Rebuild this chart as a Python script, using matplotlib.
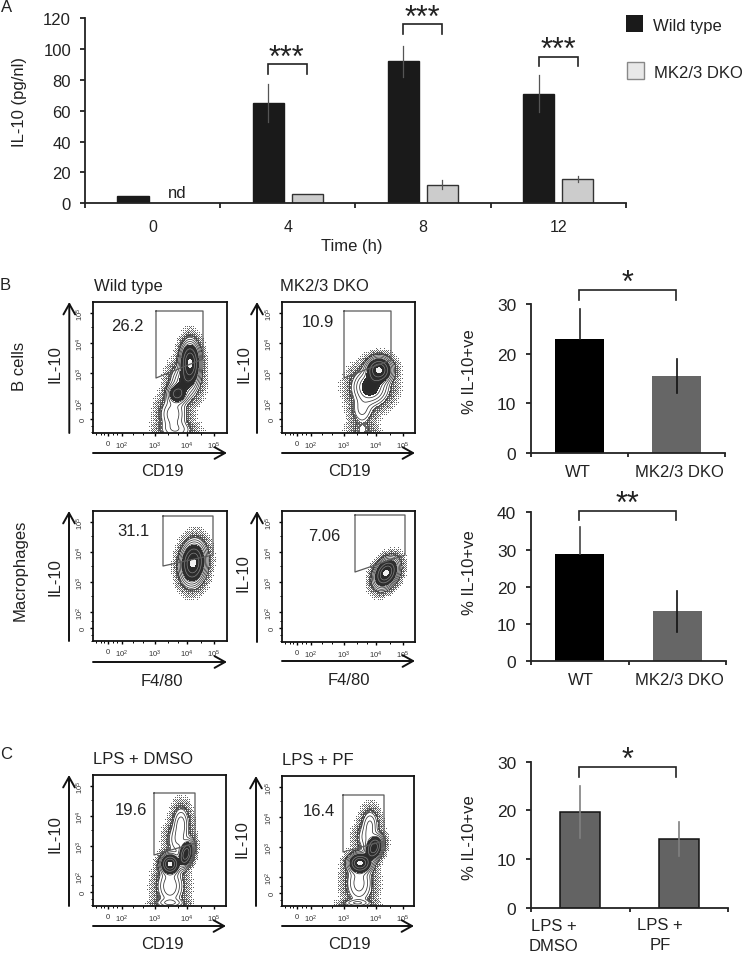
import numpy as np
import matplotlib
matplotlib.use('Agg')
import matplotlib.pyplot as plt

plt.rcParams['font.family'] = ['Liberation Sans', 'DejaVu Sans']
plt.rcParams['mathtext.fontset'] = 'custom'
plt.rcParams['mathtext.rm'] = 'Liberation Sans'
plt.rcParams['mathtext.default'] = 'regular'

W, H = 745, 954
TXT = '#222222'

# ---------- Panel A data ----------
times = ['0', '4', '8', '12']
wt_vals = [4.5, 65, 92, 71]
wt_errs = [0, 12.5, 10, 12]
ko_vals = [0, 6, 12, 16]
ko_errs = [0, 0, 3, 2]
a_brackets = [(1, 90.2, 83.7), (2, 116, 109.6), (3, 95, 88.8)]

# ---------- Summary bar panels ----------
b1_labels = ['WT', 'MK2/3 DKO']
b1_vals = [23, 15.5]
b1_errs = [6, 3.5]
b2_labels = ['WT', 'MK2/3 DKO']
b2_vals = [28.7, 13.5]
b2_errs = [7.3, 5.5]
c_labels = ['LPS +\nDMSO', 'LPS +\nPF']
c_vals = [19.7, 14.2]
c_errs = [5.3, 3.5]

# ---------- Flow plots: density lobes ----------
# (centre x, centre y, spread x, spread y, tilt deg, height), in px inside each frame
bwt_lobes = [(97, 61, 4.6, 10, 0, 1.0), (84, 92, 5, 5, 0, .42), (91, 80, 7, 9, 0, .22),
             (80, 112, 7, 9, 0, .14), (83, 128, 9, 5, 0, .08)]
bko_lobes = [(97, 68, 6, 6, 0, 1.0), (88, 85, 9, 9, -25, .30),
             (80, 108, 6, 8, 0, .07), (80, 128, 7, 5, 0, .03)]
mwt_lobes = [(100, 52, 5.8, 9.8, -6, 1.0)]
mko_lobes = [(104, 62, 5, 7.4, -30, 1.0)]
c1_lobes = [(77, 89, 4.5, 4.8, 0, 1.0), (93, 79, 3.2, 6.5, -15, .85), (85, 65, 6, 9, 0, .10),
            (88, 48, 4.5, 9, 0, .12), (77, 111, 7, 10, 0, .15), (77, 128, 8, 2.5, 0, .09)]
c2_lobes = [(78, 87, 5.5, 4.6, 0, 1.0), (92, 72, 3.8, 6, -20, .85), (85, 62, 6, 8, 0, .08),
            (88, 48, 4.5, 8, 0, .10), (77, 107, 7, 11, 0, .13), (75, 127, 8, 2, 0, .09)]

# gate outlines, px inside each frame
bwt_gate = [(63, 9), (110, 9), (110, 57), (63, 76)]
bko_gate = [(62, 9), (109, 9), (109, 58), (62, 76)]
mwt_gate = [(70, 5), (120, 5), (120, 44), (70, 55)]
mko_gate = [(73, 4), (123, 4), (123, 44), (73, 61)]
c1_gate = [(61, 18), (102, 18), (102, 68), (61, 80)]
c2_gate = [(61, 19), (102, 19), (102, 65), (61, 76)]

flow_tick_labels = ['0', '10$^{2}$', '10$^{3}$', '10$^{4}$', '10$^{5}$']
flow_xticks = [15, 29, 62, 94, 121]
flow_yticks = [117, 101, 71, 41, 11]
flow_xminor = [3, 8, 11, 20, 24, 40, 50, 75, 85, 108]
flow_yminor = [110, 124, 130, 85, 55, 25]

fig = plt.figure(figsize=(W / 100, H / 100), dpi=100)


def px_axes(x0, y0, x1, y1, **kw):
    return fig.add_axes([x0 / W, 1 - y1 / H, (x1 - x0) / W, (y1 - y0) / H], **kw)


over = px_axes(0, 0, W, H)
over.set_xlim(0, W)
over.set_ylim(H, 0)
over.axis('off')
over.set_zorder(10)


def label(x, y, s, size=12, rot=0, ha='center', **kw):
    over.text(x, y, s, fontsize=size, rotation=rot, ha=ha, va='center', color=TXT, **kw)


def arrow(x0, y0, x1, y1):
    over.annotate('', xy=(x1, y1), xytext=(x0, y0),
                  arrowprops=dict(arrowstyle='->,head_width=0.42,head_length=0.75', lw=1.4,
                                  color='#111111', shrinkA=0, shrinkB=0))


def clean(ax, lw=1.3, col='#222222'):
    for s in ['top', 'right']:
        ax.spines[s].set_visible(False)
    for s in ['left', 'bottom']:
        ax.spines[s].set_linewidth(lw)
        ax.spines[s].set_color(col)
    ax.tick_params(width=lw, color=col)
    ax.patch.set_alpha(0)


def bracket(ax, x0, x1, top, foot0, foot1):
    ax.plot([x0, x0, x1, x1], [foot0, top, top, foot1], color='#222222', lw=1.2,
            clip_on=False, solid_joinstyle='miter')


# ---------- Panel A ----------
axA = px_axes(85, 19, 625.7, 204.3)
xa = np.arange(len(times)) + 0.5
off = 0.144
bw = 0.232
axA.bar(xa - off, wt_vals, bw, color='#1a1a1a', edgecolor='#1a1a1a', lw=1)
axA.bar(xa[1:] + off, ko_vals[1:], bw, color='#cccccc', edgecolor='#333333', lw=1)
for x, v, e in zip(xa - off, wt_vals, wt_errs):
    if e:
        axA.plot([x, x], [v - e, v + e], color='#555555', lw=0.9, zorder=5)
for x, v, e in zip(xa + off, ko_vals, ko_errs):
    if e:
        axA.plot([x, x], [v - e, v + e], color='#555555', lw=0.9, zorder=5)
axA.set_xlim(0, 4)
axA.set_ylim(0, 120)
axA.set_yticks(range(0, 121, 20))
axA.set_xticks(range(5))
axA.set_xticklabels([])
axA.set_xticks(xa, minor=True)
axA.set_xticklabels(times, minor=True, fontsize=11.5, color=TXT)
axA.tick_params(axis='x', which='minor', length=0, pad=11.4)
axA.tick_params(axis='x', which='major', length=3.6)
axA.tick_params(axis='y', length=3.6, labelsize=12, labelcolor=TXT, pad=6.4)
clean(axA)
for i, top, foot in a_brackets:
    bracket(axA, xa[i] - off, xa[i] + off, top, foot, foot)
for x, y in [(286, 52), (422, 12), (558, 44)]:
    label(x, y + 7, '***', size=22)
label(177, 193, 'nd', size=12)
label(352, 247, 'Time (h)', size=12)
label(20, 102, 'IL-10 (pg/nl)', size=12, rot=90)
label(1, 7, 'A', size=12, ha='left')
label(0, 286, 'B', size=12, ha='left')
label(0, 755, 'C', size=12, ha='left')

# legend
over.fill([626, 642.7, 642.7, 626], [16, 16, 33, 33], color='#1a1a1a', lw=0)
over.fill([627, 644, 644, 627], [63, 63, 80, 80], facecolor='#e8e8e8', edgecolor='#888888', lw=1)
label(653, 26, 'Wild type', ha='left')
label(654, 73, 'MK2/3 DKO', ha='left')


# ---------- Flow plots ----------
BAYER = np.array([[0, 32, 8, 40, 2, 34, 10, 42], [48, 16, 56, 24, 50, 18, 58, 26],
                  [12, 44, 4, 36, 14, 46, 6, 38], [60, 28, 52, 20, 62, 30, 54, 22],
                  [3, 35, 11, 43, 1, 33, 9, 41], [51, 19, 59, 27, 49, 17, 57, 25],
                  [15, 47, 7, 39, 13, 45, 5, 37], [63, 31, 55, 23, 61, 29, 53, 21]]) / 64.0


def flow(frame, lobes, gate, pct, pct_xy, title, title_x, title_y, xname, xname_y, arrow_x, arrow_xy_y,
         il_xy):
    x0, y0, x1, y1 = frame
    w, h = x1 - x0, y1 - y0
    ax = px_axes(x0, y0, x1, y1)
    gx, gy = np.meshgrid(np.arange(0, w, 0.5), np.arange(0, h, 0.5))
    z = np.zeros_like(gx, dtype=float)
    for cx, cy, sx, sy, t, a in lobes:
        c, s = np.cos(np.radians(t)), np.sin(np.radians(t))
        u = (gx - cx) * c - (gy - cy) * s
        v = (gx - cx) * s + (gy - cy) * c
        z += a * np.exp(-0.5 * ((u / sx) ** 2 + (v / sy) ** 2))
    z /= z.max()
    # ordered stipple fading out around the outermost contour
    sx_, sy_ = np.meshgrid(np.arange(0, w, 1.0), np.arange(0, h, 1.0))
    ix = (sx_ * 2).astype(int)
    iy = (sy_ * 2).astype(int)
    zs = z[np.clip(iy, 0, z.shape[0] - 1), np.clip(ix, 0, z.shape[1] - 1)]
    th = 0.0004 * 120 ** BAYER[sy_.astype(int) % 8, sx_.astype(int) % 8]
    m = (zs > th) & (zs < 0.03)
    ax.scatter(sx_[m], sy_[m], s=0.55, color='#444444', lw=0)
    ax.contourf(gx, gy, z, levels=[0.2, 0.93], colors=['#2a2a2a'])
    ax.contourf(gx, gy, z, levels=[0.93, 1.01], colors=['#f2f2f2'])
    radii = np.linspace(1.3, 2.8, 8)
    levels = np.sort(np.exp(-radii ** 2 / 2))
    ax.contour(gx, gy, z, levels=levels, colors='#333333', linewidths=0.55)
    ax.contour(gx, gy, z, levels=[0.36, 0.6], colors='#8c8c8c', linewidths=0.45)
    gp = np.array(gate + [gate[0]])
    ax.plot(gp[:, 0], gp[:, 1], color='#5a5a5a', lw=0.9)
    ax.set_xlim(0, w)
    ax.set_ylim(h, 0)
    ax.set_xticks(flow_xticks)
    ax.set_xticklabels(flow_tick_labels, fontsize=5.5, color='#333333')
    ax.set_yticks(flow_yticks)
    ax.set_yticklabels(flow_tick_labels, fontsize=5.5, color='#333333', rotation=90, va='center')
    ax.set_xticks(flow_xminor, minor=True)
    ax.set_yticks(flow_yminor, minor=True)
    ax.tick_params(which='major', length=2.2, width=1, pad=2.5)
    ax.tick_params(which='minor', length=1.2, width=0.7)
    for s in ax.spines.values():
        s.set_linewidth(1.3)
        s.set_color('#111111')
    label(pct_xy[0], pct_xy[1], pct)
    label(title_x, title_y, title, ha='left')
    label(162 if x0 < 200 else 349, xname_y, xname)
    arrow(arrow_x, y1, arrow_x, y0)
    arrow(x0, arrow_xy_y, x1, arrow_xy_y)
    label(il_xy[0], il_xy[1], 'IL-10', rot=90)


flow((93, 303, 227, 434), bwt_lobes, bwt_gate, '26.2', (127, 327), 'Wild type', 94, 287, 'CD19', 472, 69.3, 454, (55, 364))
flow((282, 303, 415, 434), bko_lobes, bko_gate, '10.9', (318, 323), 'MK2/3 DKO', 280, 287, 'CD19', 472, 257, 454, (244, 364))
flow((93, 512, 227, 642), mwt_lobes, mwt_gate, '31.1', (133, 532), '', 94, 500, 'F4/80', 682, 69, 663, (55, 577))
flow((282, 512, 415, 643), mko_lobes, mko_gate, '7.06', (324, 537), '', 280, 500, 'F4/80', 681, 257, 662, (243, 573))
flow((93, 776, 226, 907), c1_lobes, c1_gate, '19.6', (131, 811), 'LPS + DMSO', 93, 760, 'CD19', 945, 69, 927, (55, 834))
flow((282, 777, 414, 907), c2_lobes, c2_gate, '16.4', (319, 812), 'LPS + PF', 282, 761, 'CD19', 945, 256, 927, (242, 839))
label(20, 366, 'B cells', rot=90)
label(20, 570, 'Macrophages', rot=90)


# ---------- Summary bars ----------
def summary(frame, labels, vals, errs, colors, ymax, step, bw, br, ecol, ylab_y, star, star_xy, edge=None, lab_px=None):
    ax = px_axes(*frame)
    x = np.array([0.5, 1.5])
    ax.bar(x, vals, bw, color=colors, edgecolor=edge if edge else colors, lw=1.1 if edge else 0)
    for xi, v, e, c, bc in zip(x, vals, errs, ecol, colors):
        if bc == '#000000':
            ax.plot([xi, xi], [v, v + e], color=c, lw=1.2, zorder=5)
        else:
            ax.plot([xi, xi], [v - e, v + e], color=c, lw=1.2, zorder=5)
    ax.set_xlim(0, 2)
    ax.set_ylim(0, ymax)
    ax.set_yticks(np.arange(0, ymax + 1, step))
    ax.set_xticks([0, 1, 2])
    ax.set_xticklabels([])
    ax.tick_params(axis='x', length=3)
    ax.tick_params(axis='y', length=3.6, labelsize=12.5, labelcolor=TXT, pad=7)
    clean(ax)
    bracket(ax, br[0], br[1], br[2], br[3], br[3])
    label(star_xy[0], star_xy[1] + 6, star, size=22)
    label(469, ylab_y, '% IL-10+ve', rot=90)
    for (lx, ly), t in zip(lab_px, labels):
        for k, part in enumerate(t.split('\n')):
            label(lx, ly + 20 * k, part)


summary((531, 305, 725, 454), b1_labels, b1_vals, b1_errs, ['#000000', '#666666'], 30, 10, 0.5,
        (0.497, 1.494, 32.8, 30.8), ['#222222', '#111111'], 372, '*', (627.7, 278),
        lab_px=[(578, 473), (679, 473)])
summary((531, 513.3, 726, 662.3), b2_labels, b2_vals, b2_errs, ['#000000', '#666666'], 40, 10, 0.5,
        (0.497, 1.488, 40.4, 37.8), ['#444444', '#111111'], 573, '**', (627.7, 499),
        lab_px=[(581, 681), (679, 681)])
summary((531, 762.7, 728, 909), c_labels, c_vals, c_errs, ['#636363', '#636363'], 30, 10, 0.405,
        (0.49, 1.472, 29, 26.9), ['#808080', '#808080'], 838, '*', (627.7, 755), edge='#111111',
        lab_px=[(554, 927), (660, 926)])

fig.savefig('out.png', dpi=100)
